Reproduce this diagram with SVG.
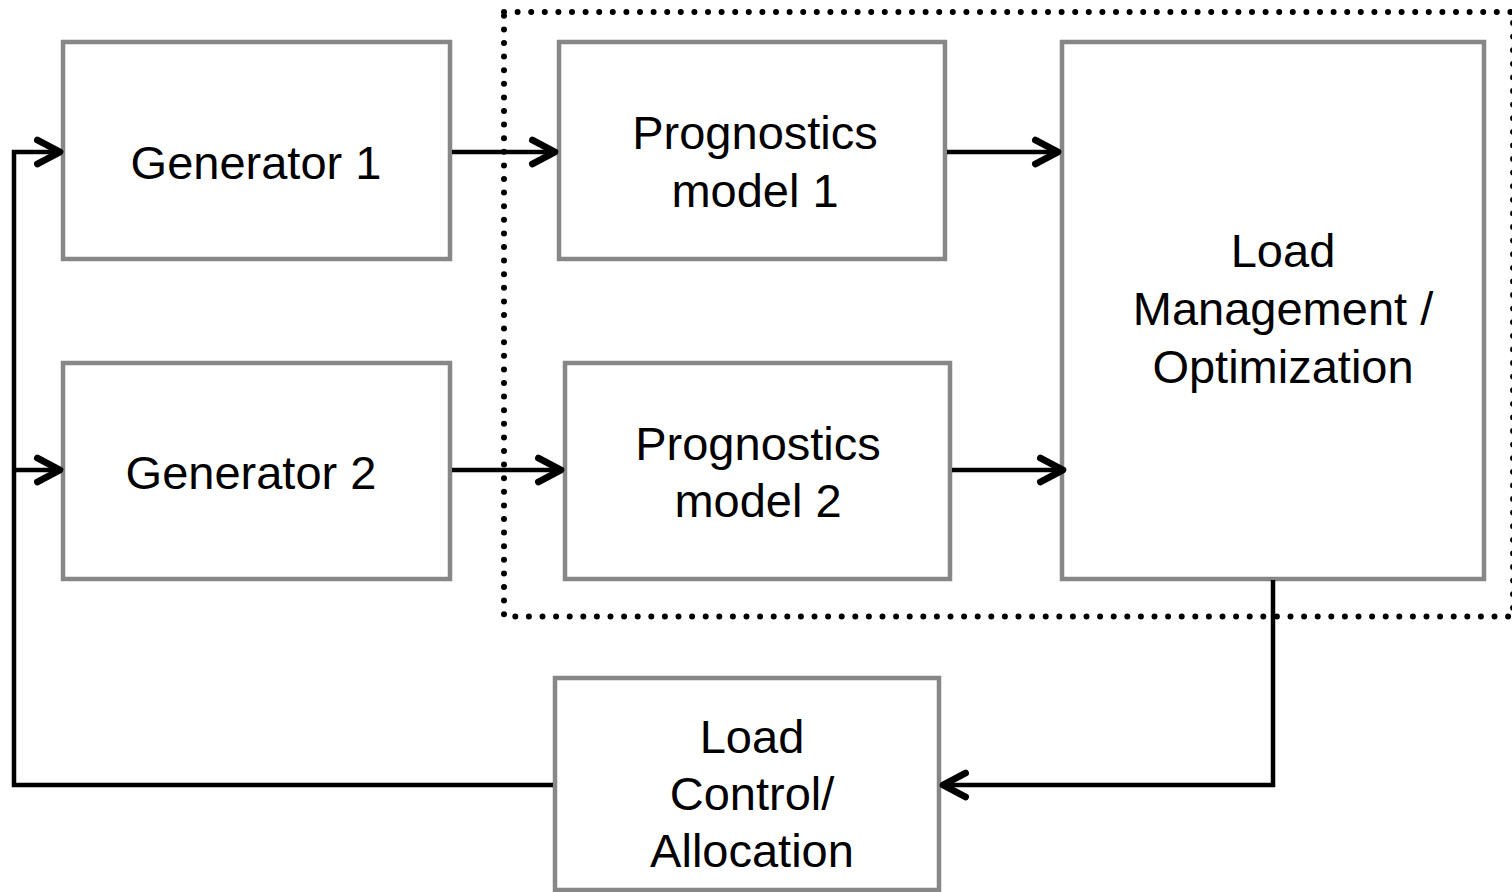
<svg xmlns="http://www.w3.org/2000/svg" width="1512" height="892" viewBox="0 0 1512 892">
<style>
.box{fill:#fff;stroke:#878787;stroke-width:4.5}
.lbl{font-family:"Liberation Sans",Arial,sans-serif;font-size:47px;fill:#000;text-anchor:middle}
.con{fill:none;stroke:#000;stroke-width:4.5}
.dot{fill:none;stroke:#000;stroke-width:6;stroke-dasharray:0 13.6;stroke-linecap:round}
</style>
<defs>
<marker id="arr" markerUnits="userSpaceOnUse" markerWidth="40" markerHeight="40" viewBox="-25 -15 30 30" refX="0" refY="0" orient="auto" overflow="visible">
<path d="M-17,-9 L0,0 L-17,9" fill="none" stroke="#000" stroke-width="5" stroke-linecap="round" stroke-linejoin="round"/>
</marker>
</defs>
<rect x="504" y="12" width="1009" height="604.5" class="dot"/>
<g id="gen1"><rect class="box" x="63" y="42" width="387" height="217"/><text class="lbl" x="256" y="179">Generator 1</text></g>
<g id="gen2"><rect class="box" x="63" y="363" width="387" height="216"/><text class="lbl" x="251" y="489">Generator 2</text></g>
<g id="prog1"><rect class="box" x="559" y="42" width="386" height="217"/><text class="lbl" x="755" y="149">Prognostics</text><text class="lbl" x="755" y="207">model 1</text></g>
<g id="prog2"><rect class="box" x="565" y="363" width="385" height="216"/><text class="lbl" x="758" y="460">Prognostics</text><text class="lbl" x="758" y="517">model 2</text></g>
<g id="lm"><rect class="box" x="1062" y="42" width="422" height="537"/><text class="lbl" x="1283" y="267">Load</text><text class="lbl" x="1283" y="325">Management /</text><text class="lbl" x="1283" y="383">Optimization</text></g>
<g id="lc"><rect class="box" x="555" y="678" width="384" height="212"/><text class="lbl" x="752" y="753">Load</text><text class="lbl" x="752" y="810">Control/</text><text class="lbl" x="752" y="867">Allocation</text></g>
<g id="connectors">
<path class="con" d="M452,152 H555" marker-end="url(#arr)"/>
<path class="con" d="M947,152 H1058" marker-end="url(#arr)"/>
<path class="con" d="M452,470 H561" marker-end="url(#arr)"/>
<path class="con" d="M952,470 H1063" marker-end="url(#arr)"/>
<path class="con" d="M553,785 H14 V152 H60" marker-end="url(#arr)"/>
<path class="con" d="M14,470 H60" marker-end="url(#arr)"/>
<path class="con" d="M1273,580 V785 H943" marker-end="url(#arr)"/>
</g>
</svg>
